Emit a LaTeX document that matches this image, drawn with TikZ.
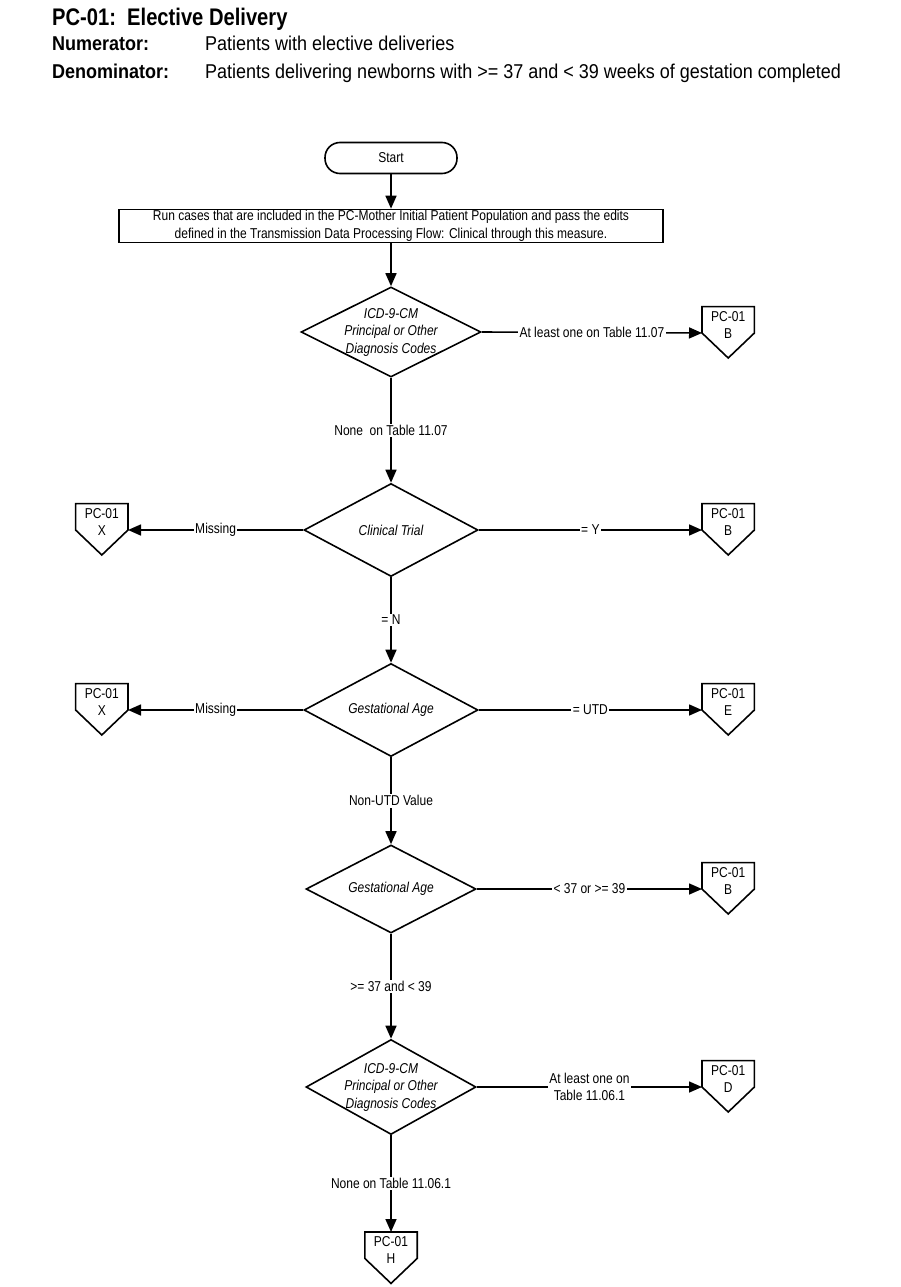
\documentclass[tikz,border=0pt]{standalone}
\usepackage{fontspec}
\setmainfont{Liberation Sans}[FakeStretch=0.84]
\newfontfamily\headfont{Liberation Sans}[FakeStretch=0.9]
\usetikzlibrary{shapes.geometric,arrows.meta,calc}

\tikzset{
  line/.style={line width=1.6pt},
  arrow/.style={line, -{Triangle[length=13pt,width=11pt]}},
  small/.style={font=\fontsize{14.3}{17.5}\selectfont},
  terminal/.style={rectangle, rounded corners=15pt, draw, line, minimum width=132pt,
    minimum height=31pt, small},
  process/.style={rectangle, draw, line, minimum width=544pt, minimum height=33pt,
    inner sep=0pt, align=center, small},
  decision/.style={diamond, draw, line, minimum width=174pt, minimum height=93pt,
    inner sep=0pt},
  dtext/.style={inner sep=0pt, align=center, font=\fontsize{14.3}{17.5}\selectfont\itshape},
  offbox/.style={rectangle, minimum width=52pt, minimum height=26pt, inner sep=0pt},
  lbl/.style={fill=white, inner sep=1.5pt, align=center, small},
  head/.style={anchor=west, inner sep=0pt, font=\headfont\fontsize{20}{22}\selectfont},
}

% off-page connector: name, position, letter
\newcommand{\offpage}[4][north]{%
  \node[offbox, anchor=#1] (#2) at (#3) {};
  \node[small, align=center, inner sep=0pt] (#2-t) at ($(#2.center)+(0,5)$) {PC-01\\#4};
  \draw[line, line join=miter] (#2.north west) -- (#2.north east) -- (#2.south east)
    -- ($(#2.south)+(0,25)$) -- (#2.south west) -- cycle;}

\begin{document}
\begin{tikzpicture}[x=1pt, y=-1pt]
  \useasboundingbox (0,0) rectangle (901,1287);

  % heading
  \node[anchor=base west, inner sep=0pt, font=\bfseries\fontsize{24}{26}\selectfont] (title) at (52,26) {PC-01:\ \ Elective Delivery};
  \node[head, anchor=base west, font=\headfont\bfseries\fontsize{20}{22}\selectfont] (numlbl) at (52,51) {Numerator:};
  \node[head, anchor=base west] (numtxt) at (205,51) {Patients with elective deliveries};
  \node[head, anchor=base west, font=\headfont\bfseries\fontsize{20}{22}\selectfont] (denlbl) at (52,79) {Denominator:};
  \node[head, anchor=base west] (dentxt) at (205,79) {Patients delivering newborns with >= 37 and < 39 weeks of gestation completed};

  % main column
  \node[terminal] (start) at (391,158) {Start};
  \node[process] (run) at (391,226) {Run cases that are included in the PC-Mother Initial Patient Population and pass the edits\\
    defined in the Transmission Data Processing Flow: Clinical through this measure.};
  \node[decision, minimum width=180pt, minimum height=90pt] (icd1) at (391,332) {};
  \node[dtext] (icd1-t) at (icd1) {ICD-9-CM\\Principal or Other\\Diagnosis Codes};
  \node[decision] (trial) at (391,530) {};
  \node[dtext] (trial-t) at (trial) {Clinical Trial};
  \node[decision] (gest1) at (391,710) {};
  \node[dtext] (gest1-t) at (gest1) {Gestational Age};
  \node[decision, minimum width=170pt, minimum height=88pt] (gest2) at (391,889) {};
  \node[dtext] (gest2-t) at (gest2) {Gestational Age};
  \node[decision, minimum width=170pt, minimum height=95pt] (icd2) at (391,1087) {};
  \node[dtext] (icd2-t) at (icd2) {ICD-9-CM\\Principal or Other\\Diagnosis Codes};

  % connectors
  \offpage[south west]{pcB1}{702,333}{B}
  \offpage[south east]{pcX1}{128,530}{X}
  \offpage[south west]{pcB2}{702,530}{B}
  \offpage[south east]{pcX2}{128,710}{X}
  \offpage[south west]{pcE}{702,710}{E}
  \offpage[south west]{pcB3}{702,889}{B}
  \offpage[south west]{pcD}{702,1087}{D}
  \offpage{pcH}{391,1232}{H}

  \draw[arrow] (start) -- (run);
  \draw[arrow] (run) -- (icd1);
  \draw[arrow] (icd1.east) -- node[lbl] {At least one on Table 11.07} (pcB1.south west);
  \draw[arrow] (icd1) -- node[lbl] {None\ \ on Table 11.07} (trial);
  \draw[arrow] (trial.west) -- node[lbl] {Missing} (pcX1.south east);
  \draw[arrow] (trial.east) -- node[lbl] {= Y} (pcB2.south west);
  \draw[arrow] (trial) -- node[lbl] {= N} (gest1);
  \draw[arrow] (gest1.west) -- node[lbl] {Missing} (pcX2.south east);
  \draw[arrow] (gest1.east) -- node[lbl] {= UTD} (pcE.south west);
  \draw[arrow] (gest1) -- node[lbl] {Non-UTD Value} (gest2);
  \draw[arrow] (gest2.east) -- node[lbl] {< 37 or >= 39} (pcB3.south west);
  \draw[arrow] (gest2) -- node[lbl] {>= 37 and < 39} (icd2);
  \draw[arrow] (icd2.east) -- node[lbl] {At least one on\\Table 11.06.1} (pcD.south west);
  \draw[arrow] (icd2) -- node[lbl] {None on Table 11.06.1} (pcH);
\end{tikzpicture}
\end{document}
